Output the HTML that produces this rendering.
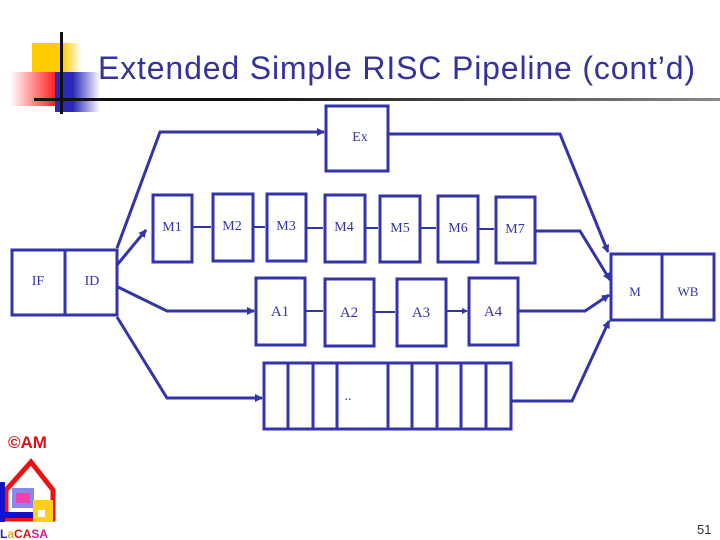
<!DOCTYPE html>
<html><head><style>
body{margin:0;width:720px;height:540px;background:#fff;position:relative;overflow:hidden;font-family:"Liberation Serif",serif}
.t{position:absolute;left:98px;top:50px;font:32px "Liberation Sans",sans-serif;color:#333399;white-space:nowrap;letter-spacing:0.85px}
</style></head><body>
<div style="position:absolute;left:32px;top:43px;width:50px;height:42px;background:linear-gradient(90deg,#ffcc00 60%,#fff)"></div>
<div style="position:absolute;left:10px;top:72px;width:45px;height:34px;background:linear-gradient(90deg,#fff,#ff2222)"></div>
<div style="position:absolute;left:55px;top:72px;width:45px;height:40px;background:linear-gradient(90deg,#2a2ab8 40%,#fff)"></div>
<div style="position:absolute;left:60px;top:32px;width:3px;height:82px;background:#111"></div>
<div style="position:absolute;left:34px;top:98px;width:686px;height:3px;background:linear-gradient(90deg,#111 30%,#888)"></div>
<div class="t">Extended Simple RISC Pipeline (cont’d)</div>
<svg width="720" height="540" style="position:absolute;left:0;top:0">
<defs><marker id="a" markerWidth="8" markerHeight="8" refX="7" refY="4" orient="auto" markerUnits="userSpaceOnUse"><path d="M0,0L8,4L0,8z" fill="#3333aa"/></marker>
<marker id="b" markerWidth="6" markerHeight="6" refX="5" refY="3" orient="auto" markerUnits="userSpaceOnUse"><path d="M0,0L6,3L0,6z" fill="#3333aa"/></marker></defs>
<g fill="none" stroke="#3333aa" stroke-width="3">
<rect x="12" y="250" width="53" height="65"/><rect x="65" y="250" width="52" height="65"/>
<rect x="326" y="106" width="62" height="65"/>
<rect x="153" y="195" width="39" height="67"/><rect x="213" y="194" width="40" height="67"/><rect x="267" y="194" width="39" height="67"/><rect x="325" y="195" width="40" height="67"/><rect x="380" y="196" width="40" height="66"/><rect x="438" y="196" width="40" height="66"/><rect x="496" y="197" width="39" height="66"/>
<rect x="256" y="278" width="49" height="67"/><rect x="325" y="279" width="49" height="67"/><rect x="397" y="279" width="49" height="67"/><rect x="469" y="278" width="49" height="67"/>
<rect x="611" y="254" width="51" height="66"/><rect x="662" y="254" width="52" height="66"/>
<rect x="264" y="363" width="247" height="66"/>
<path d="M288 363V429M313 363V429M337 363V429M388 363V429M412 363V429M437 363V429M461 363V429M486 363V429"/>
<path d="M117 248L160 132H324" marker-end="url(#a)"/>
<path d="M388 134H560L608 252" marker-end="url(#a)"/>
<path d="M117 265L146 230" marker-end="url(#a)"/>
<path d="M118 287L167 311H254" marker-end="url(#a)"/>
<path d="M117 317L167 398H262" marker-end="url(#a)"/>
<path d="M535 231H580L610 280" marker-end="url(#a)"/>
<path d="M518 311H585L609 295" marker-end="url(#a)"/>
<path d="M511 401H572L609 321" marker-end="url(#a)"/>
<path d="M192 227H211M253 227H265M306 228H323M365 228H378M420 228H436M478 229H494M305 311H323M374 312H395M446 311H467" stroke-width="2" marker-end="url(#b)"/>
</g>
<g fill="#3333aa" font-family="Liberation Serif,serif" font-size="14">
<text x="38" y="285" text-anchor="middle">IF</text><text x="92" y="285" text-anchor="middle">ID</text>
<text x="360" y="141" text-anchor="middle">Ex</text>
<text x="172" y="231" text-anchor="middle">M1</text><text x="232" y="230" text-anchor="middle">M2</text><text x="286" y="230" text-anchor="middle">M3</text><text x="344" y="231" text-anchor="middle">M4</text><text x="400" y="232" text-anchor="middle">M5</text><text x="458" y="232" text-anchor="middle">M6</text><text x="515" y="233" text-anchor="middle">M7</text>
<text x="280" y="316" text-anchor="middle" font-size="15">A1</text><text x="349" y="317" text-anchor="middle" font-size="15">A2</text><text x="421" y="317" text-anchor="middle" font-size="15">A3</text><text x="493" y="316" text-anchor="middle" font-size="15">A4</text>
<text x="635" y="296" text-anchor="middle" font-size="13">M</text><text x="688" y="296" text-anchor="middle" font-size="13">WB</text>
<text x="348" y="400" text-anchor="middle">..</text>
</g>
<text x="8" y="448" fill="#dd1111" font-family="Liberation Sans,sans-serif" font-size="17" font-weight="bold">©AM</text>
<path d="M6 490L31 462L53 490V519H6Z" fill="none" stroke="#ee1111" stroke-width="5"/>
<rect x="0" y="482" width="5" height="40" fill="#1111cc"/>
<rect x="5" y="512" width="30" height="6" fill="#1111cc"/>
<rect x="12" y="488" width="22" height="20" fill="#8888ee"/>
<rect x="16" y="493" width="14" height="10" fill="#ee44aa"/>
<rect x="33" y="500" width="20" height="22" fill="#ffcc22"/>
<rect x="38" y="510" width="7" height="7" fill="#fff"/>
<text x="0" y="538" font-family="Liberation Sans,sans-serif" font-size="12" font-weight="bold"><tspan fill="#2222aa">L</tspan><tspan fill="#ddaa22">a</tspan><tspan fill="#dd1111">CA</tspan><tspan fill="#cc22aa">SA</tspan></text>
<text x="697" y="534" font-family="Liberation Sans,sans-serif" font-size="13" fill="#333">51</text>
</svg>
</body></html>
